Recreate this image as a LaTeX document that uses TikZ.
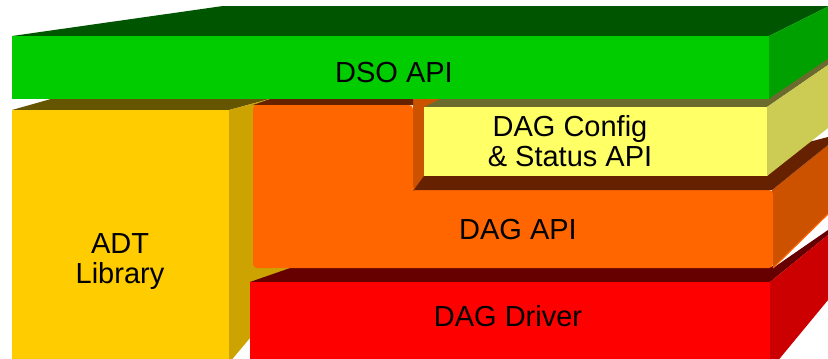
\documentclass[tikz,border=0pt]{standalone}
\usepackage{fontspec}
\setmainfont{Liberation Sans}
\definecolor{dsoF}{HTML}{00CC00}
\definecolor{dsoT}{HTML}{005500}
\definecolor{dsoR}{HTML}{00A000}
\definecolor{adtF}{HTML}{FFCC00}
\definecolor{adtT}{HTML}{665500}
\definecolor{adtR}{HTML}{CCA300}
\definecolor{apiF}{HTML}{FF6600}
\definecolor{apiT}{HTML}{662200}
\definecolor{apiR}{HTML}{CC5200}
\definecolor{cfgF}{HTML}{FFFF66}
\definecolor{cfgT}{HTML}{6B6B2E}
\definecolor{cfgR}{HTML}{CCCC55}
\definecolor{drvF}{HTML}{FF0000}
\definecolor{drvT}{HTML}{660000}
\definecolor{drvR}{HTML}{CC0000}
\begin{document}
\begin{tikzpicture}[x=0.3mm,y=-0.3mm,
  lbl/.style={font=\fontsize{24.75}{25.2}\selectfont, align=center, inner sep=0pt, anchor=base, text=black}]
\clip (0,0) rectangle (828,358);
\fill[white] (0,0) rectangle (828,358);
% ADT Library block
\fill[adtT] (12,110) -- (229,110) -- (340,80) -- (118,80) -- cycle;
\fill[adtR] (229,110) -- (340,80) -- (340,300) -- (250,338) -- (229,363) -- cycle;
\fill[adtF] (12,110) rectangle (229,365);
% DAG Driver block
\fill[drvT] (250,282) -- (770,282) -- (828,235) -- (828,230) -- (773,268) -- (773,266) -- (296,266) -- cycle;
\fill[drvR] (770,282) -- (828,235) -- (828,300) -- (776,363) -- (770,365) -- cycle;
\fill[drvF] (250,282) rectangle (770,365);
% DAG API block (L-shaped)
\fill[apiR] (413,90) -- (450,90) -- (450,180) -- (413,193) -- cycle;
\fill[apiT] (253,105) -- (413,105) -- (413,90) -- (296,90) -- cycle;
\fill[apiR] (772,190) -- (828,145) -- (828,214) -- (773,268) -- cycle;
\draw[apiF, line width=0.35mm] (773,268) -- (828,214);
\fill[apiF, rounded corners=1.2mm] (253,105) -- (413,105) -- (413,190) -- (773,190) -- (773,268) -- (253,268) -- cycle;
\fill[apiT] (413,191) -- (424,176) -- (767,176) -- (805,143) -- (828,137) -- (828,145) -- (772,190) -- (413,190) -- cycle;
% DAG Config block
\fill[cfgT] (424,107) -- (767,107) -- (828,65) -- (828,50) -- (458,90) -- cycle;
\fill[cfgR] (767,107) -- (828,65) -- (828,128) -- (767,176) -- cycle;
\fill[cfgF] (424,107) rectangle (767,176);
% DSO API block
\fill[dsoT] (12,36) -- (769,36) -- (829,6) -- (223,6) -- cycle;
\fill[dsoR] (769,36) -- (829,6) -- (829,58) -- (769,98.5) -- cycle;
\fill[dsoF] (12,36) rectangle (769,98.5);
% Labels (base anchor = baseline of the last line)
\node[lbl] (dso) at (394,82) {DSO API};
\node[lbl] (adt) at (120,283) {ADT\\Library};
\node[lbl] (cfg) at (570,166) {DAG Config\\\& Status API};
\node[lbl] (api) at (518,239) {DAG API};
\node[lbl] (drv) at (508,326) {DAG Driver};
\end{tikzpicture}
\end{document}
